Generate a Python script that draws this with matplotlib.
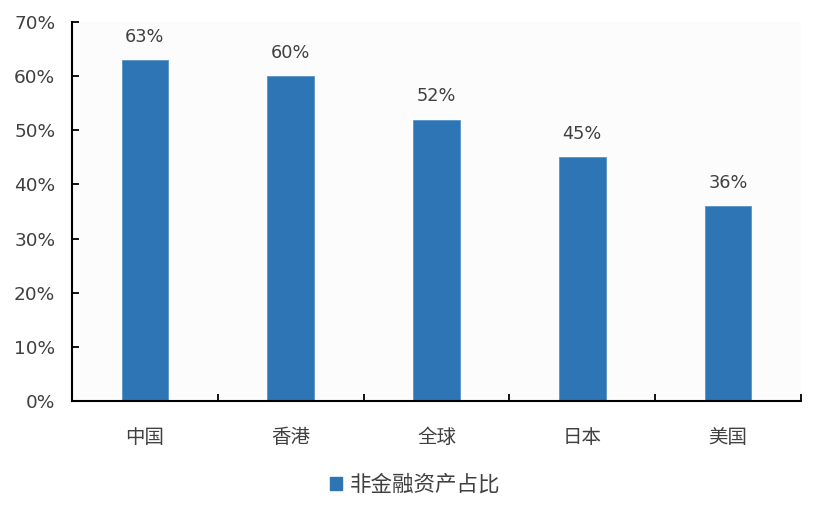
import matplotlib
matplotlib.use("Agg")
import matplotlib.pyplot as plt
from matplotlib.patches import Patch
from matplotlib.ticker import FixedLocator

plt.rcParams['font.family'] = ['Noto Sans CJK SC', 'DejaVu Sans']

categories = ['中国', '香港', '全球', '日本', '美国']
values = [63, 60, 52, 45, 36]
series_name = '非金融资产占比'
yticks = [0, 10, 20, 30, 40, 50, 60, 70]

color = '#2e75b6'
text_color = '#404040'

fig = plt.figure(figsize=(8.21, 5.13), dpi=100)
ax = fig.add_axes([0.0877, 0.2183, 0.8879, 0.7387])
ax.set_facecolor('#fcfcfc')

x = list(range(len(categories)))
bars = ax.bar(x, values, width=0.32, color=color, edgecolor='#5a93c8', linewidth=0.6)
for xi, v in zip(x, values):
    ax.text(xi, v + 2.6, f'{v}%', ha='center', va='bottom', fontsize=12.8,
            color=text_color, family=['DejaVu Sans'])

ax.set_xlim(-0.5, len(categories) - 0.5)
ax.set_ylim(0, 70)
ax.set_yticks(yticks)
ax.set_yticklabels([f'{t}%' for t in yticks], family=['DejaVu Sans'])
ax.set_xticks(x)
ax.set_xticklabels(categories)
ax.xaxis.set_minor_locator(FixedLocator([i + 0.5 for i in x]))
ax.tick_params(axis='x', which='major', length=0, pad=19, labelsize=14, labelcolor=text_color)
ax.tick_params(axis='x', which='minor', direction='in', length=5, width=1.3, color='black')
ax.tick_params(axis='y', direction='in', length=5, width=1.3, pad=12, labelsize=13.3, labelcolor=text_color)

for s in ['top', 'right']:
    ax.spines[s].set_visible(False)
for s in ['left', 'bottom']:
    ax.spines[s].set_linewidth(1.5)
    ax.spines[s].set_color('black')

handle = Patch(facecolor=color, edgecolor=color)
fig.legend([handle], [series_name], loc='center', bbox_to_anchor=(0.506, 0.055),
           frameon=False, fontsize=15.5, handlelength=0.55, handleheight=0.55,
           handletextpad=0.35, labelcolor=text_color)

fig.savefig('out.png', dpi=100, facecolor='white')
